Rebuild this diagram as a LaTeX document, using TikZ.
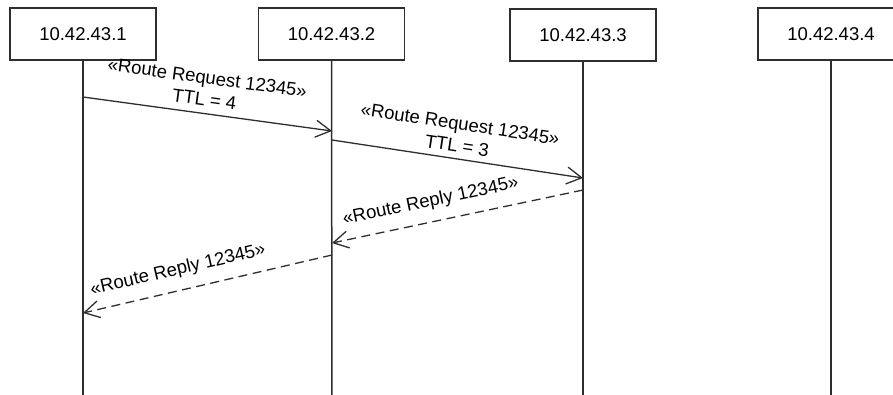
\documentclass[tikz,border=0pt]{standalone}
\usepackage{fontspec}
\setmainfont{Liberation Sans}
\usetikzlibrary{arrows.meta}
\definecolor{linegray}{HTML}{2E2E2E}
\tikzset{
  lifebox/.style={draw=linegray, line width=1.5pt, minimum width=146pt, minimum height=52pt,
    inner sep=0pt, font=\fontsize{18.5}{21}\selectfont},
  lifeline/.style={draw=linegray, line width=1.5pt},
  msg/.style={draw=linegray, line width=1.3pt, -{Straight Barb[length=15pt,width=17pt,line width=1.3pt]}},
  reply/.style={msg, dash pattern=on 9pt off 5.5pt},
  msglabel/.style={sloped, above, font=\fontsize{18.5}{22}\selectfont, align=center, inner sep=2pt}
}
\begin{document}
\begin{tikzpicture}[x=1pt, y=-1pt]
  \clip (0,0) rectangle (893,394);
  % participants
  \node[lifebox] (n1) at (83,34) {10.42.43.1};
  \node[lifebox] (n2) at (331.5,34) {10.42.43.2};
  \node[lifebox] (n3) at (583,35) {10.42.43.3};
  \node[lifebox] (n4) at (831,34) {10.42.43.4};
  % lifelines
  \coordinate (e1) at (83,400);
  \coordinate (e2) at (332,400);
  \coordinate (e3) at (583,400);
  \coordinate (e4) at (831,400);
  \draw[lifeline] (n1.south) -- (e1);
  \draw[lifeline] (n2.south) -- (e2);
  \draw[lifeline] (n3.south) -- (e3);
  \draw[lifeline] (n4.south) -- (e4);
  % message end points on the lifelines
  \coordinate (q1s) at (83,97);
  \coordinate (q1e) at (332,131);
  \coordinate (q2s) at (332,140);
  \coordinate (q2e) at (583,178);
  \coordinate (r1s) at (583,190);
  \coordinate (r1e) at (332,243);
  \coordinate (r2s) at (332,255);
  \coordinate (r2e) at (83,313);
  % route requests
  \draw[msg] (q1s) -- node[msglabel, above=5pt, pos=0.48] {«Route Request 12345»\\TTL = 4} (q1e);
  \draw[msg] (q2s) -- node[msglabel, above=4pt, pos=0.49] {«Route Request 12345»\\TTL = 3} (q2e);
  % route replies
  \draw[reply] (r1s) -- node[msglabel, above=9pt, pos=0.59] {«Route Reply 12345»} (r1e);
  \draw[reply] (r2s) -- node[msglabel, above=9pt, pos=0.6] {«Route Reply 12345»} (r2e);
\end{tikzpicture}
\end{document}
